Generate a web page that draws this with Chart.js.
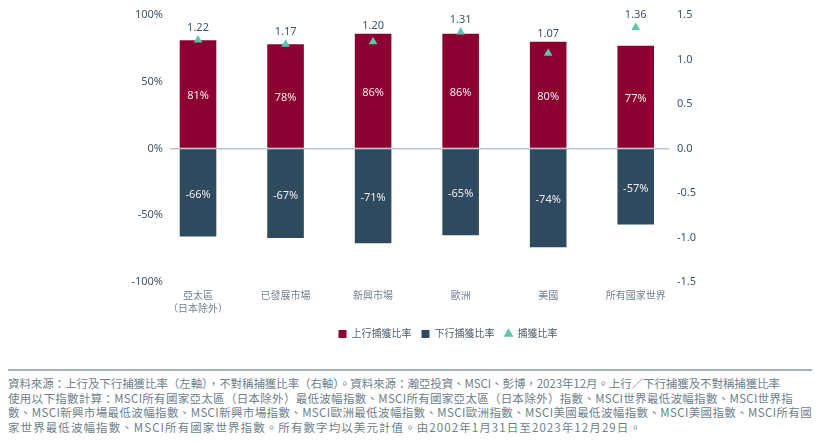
<!DOCTYPE html>
<html>
<head>
<meta charset="utf-8">
<script src="https://cdn.jsdelivr.net/npm/chart.js@4"></script>
<style>
  body { margin: 0; background: #fff; width: 820px; height: 442px; overflow: hidden; position: relative; }
  .chart-box { position: absolute; left: 0; top: 0; width: 820px; height: 349px; }
  .note {
    position: absolute; left: 8px; top: 369px; width: 804px;
    border-top: 2px solid #a3b2bb; padding-top: 5px;
    font-family: "Noto Sans CJK TC", "Noto Sans", sans-serif;
    font-size: 11.5px; line-height: 14.5px; color: #6d7f8b;
  }
  .note div { white-space: nowrap; }
</style>
</head>
<body>
<div class="chart-box"><canvas id="graphique-capture"></canvas></div>
<div class="note">
  <div data-w="772">資料來源：上行及下行捕獲比率（左軸），不對稱捕獲比率（右軸）。資料來源：瀚亞投資、MSCI、彭博，2023年12月。上行／下行捕獲及不對稱捕獲比率</div>
  <div data-w="785">使用以下指數計算：MSCI所有國家亞太區（日本除外）最低波幅指數、MSCI所有國家亞太區（日本除外）指數、MSCI世界最低波幅指數、MSCI世界指</div>
  <div data-w="804">數、MSCI新興市場最低波幅指數、MSCI新興市場指數、MSCI歐洲最低波幅指數、MSCI歐洲指數、MSCI美國最低波幅指數、MSCI美國指數、MSCI所有國</div>
  <div data-w="634">家世界最低波幅指數、MSCI所有國家世界指數。所有數字均以美元計值。由2002年1月31日至2023年12月29日。</div>
</div>
<script>
// Data
const categories = [["亞太區", "（日本除外）"], "已發展市場", "新興市場", "歐洲", "美國", "所有國家世界"];
const upsideCapture = [81, 78, 86, 86, 80, 77];
const downsideCapture = [-66, -67, -71, -65, -74, -57];
const captureRatio = [1.22, 1.17, 1.20, 1.31, 1.07, 1.36];
const seriesNames = ["上行捕獲比率", "下行捕獲比率", "捕獲比率"];

const RED = '#8c0032';
const NAVY = '#2e4a5f';
const TEAL = '#5cc3ad';
const TICK = '#3f5567';
const FONT = '"Noto Sans", "Noto Sans CJK TC", sans-serif';

// stretch each footnote line to the width it has in the original
document.querySelectorAll('.note div').forEach(line => {
  const range = document.createRange();
  range.selectNodeContents(line);
  const natural = range.getBoundingClientRect().width;
  const n = line.textContent.length;
  line.style.letterSpacing = ((+line.dataset.w - natural) / n) + 'px';
});

// categories sit on a linear axis (index 0..5) so the bars keep their
// spacing while the plot is a bit narrower than 6 full slots
const points = arr => arr.map((v, i) => ({ x: i, y: v }));

// labels inside the bars and above the triangles
const valueLabels = {
  id: 'valueLabels',
  afterDatasetsDraw(chart) {
    const ctx = chart.ctx;
    ctx.save();
    ctx.font = '11px ' + FONT;
    ctx.textAlign = 'center';
    ctx.textBaseline = 'middle';
    ctx.fillStyle = '#f4e9ed';
    [upsideCapture, downsideCapture].forEach((vals, di) => {
      chart.getDatasetMeta(di).data.forEach((bar, i) => {
        ctx.fillText(vals[i] + '%', bar.x, (bar.y + bar.base) / 2 + 2);
      });
    });
    const up = chart.getDatasetMeta(0).data;
    ctx.fillStyle = TICK;
    ctx.textBaseline = 'bottom';
    chart.getDatasetMeta(2).data.forEach((p, i) => {
      const top = Math.min(up[i].y, p.y - 5);
      ctx.fillText(captureRatio[i].toFixed(2), p.x, top - 2);
    });
    ctx.restore();
  }
};

// legend sits a little right of centre in the original
const legendShift = {
  id: 'legendShift',
  afterLayout(chart) {
    chart.legend.left += 38;
    chart.legend.right += 38;
  }
};

const ctx = document.getElementById('graphique-capture').getContext('2d');
const captureChart = new Chart(ctx, {
  data: {
    datasets: [
      {
        type: 'bar',
        label: seriesNames[0],
        data: points(upsideCapture),
        backgroundColor: RED,
        yAxisID: 'y',
        stack: 'cap',
        order: 1,
        barPercentage: 0.418,
        categoryPercentage: 1,
        pointStyle: 'rect'
      },
      {
        type: 'bar',
        label: seriesNames[1],
        data: points(downsideCapture),
        backgroundColor: NAVY,
        yAxisID: 'y',
        stack: 'cap',
        order: 1,
        barPercentage: 0.418,
        categoryPercentage: 1,
        pointStyle: 'rect'
      },
      {
        type: 'line',
        label: seriesNames[2],
        data: points(captureRatio),
        yAxisID: 'y1',
        showLine: false,
        pointStyle: 'triangle',
        pointRadius: 5,
        backgroundColor: TEAL,
        borderColor: TEAL,
        borderWidth: 0,
        order: 0
      }
    ]
  },
  options: {
    responsive: true,
    maintainAspectRatio: false,
    animation: false,
    layout: { padding: { top: 15, left: 0, right: 0, bottom: 0 } },
    scales: {
      x: {
        type: 'linear',
        min: -0.32,
        max: 5.38,
        offset: false,
        stacked: true,
        grid: { display: false, drawTicks: false },
        border: { display: false },
        afterBuildTicks(s) { s.ticks = categories.map((c, i) => ({ value: i })); },
        ticks: {
          autoSkip: false,
          maxRotation: 0,
          color: '#73838f',
          font: { family: FONT, size: 10, lineHeight: 1.3 },
          padding: 8,
          callback: v => categories[v]
        },
        afterFit(s) { s.height = 37; }
      },
      y: {
        stacked: true,
        min: -100,
        max: 100,
        grid: {
          drawTicks: false,
          lineWidth: 1.5,
          color: c => c.tick && c.tick.value === 0 ? '#b9c6ce' : 'rgba(0,0,0,0)'
        },
        border: { display: false },
        ticks: { stepSize: 50, color: TICK, font: { family: FONT, size: 11 }, padding: 7, callback: v => v + '%' },
        afterFit(s) { s.width = 170; }
      },
      y1: {
        position: 'right',
        min: -1.5,
        max: 1.5,
        grid: { display: false, drawTicks: false },
        border: { display: false },
        ticks: { stepSize: 0.5, color: TICK, font: { family: FONT, size: 11 }, padding: 8, callback: v => v.toFixed(1) },
        afterFit(s) { s.width = 151; }
      }
    },
    plugins: {
      legend: {
        position: 'bottom',
        labels: {
          usePointStyle: true,
          boxWidth: 8,
          boxHeight: 8,
          padding: 10,
          color: '#4c5d6b',
          font: { family: FONT, size: 10 },
          sort: (a, b) => a.datasetIndex - b.datasetIndex
        }
      },
      tooltip: { enabled: false }
    }
  },
  plugins: [valueLabels, legendShift]
});
</script>
</body>
</html>
